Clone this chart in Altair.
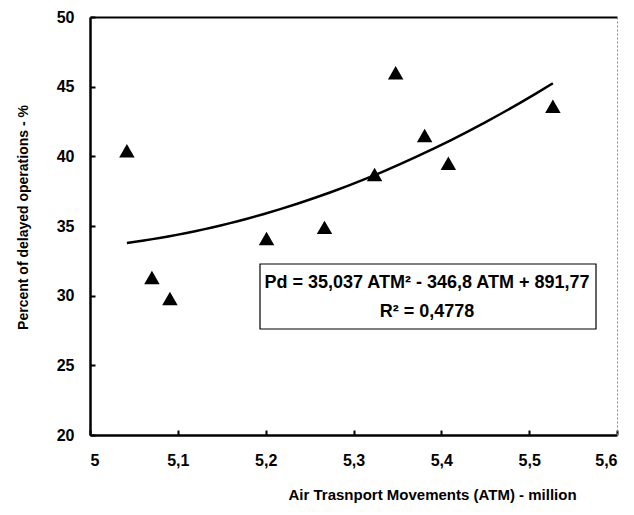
import altair as alt
import pandas as pd

# Data
atm = [5.042, 5.0705, 5.091, 5.201, 5.267, 5.324, 5.348, 5.381, 5.408, 5.527]
delayed = [40.4, 31.3, 29.8, 34.1, 34.9, 38.7, 46.0, 41.5, 39.5, 43.6]
x_ticks = [5.0, 5.1, 5.2, 5.3, 5.4, 5.5, 5.6]
y_ticks = [20, 25, 30, 35, 40, 45, 50]
equation_line1 = "Pd = 35,037 ATM² - 346,8 ATM + 891,77"
equation_line2 = "R² = 0,4778"
x_title = "Air Trasnport Movements (ATM) - million"
y_title = "Percent of delayed operations - %"

df = pd.DataFrame({"atm": atm, "pct": delayed})
one = pd.DataFrame({"k": [0]})

FONT = "Liberation Sans"
xscale = alt.Scale(domain=[5.0, 5.6], nice=False, zero=False)
yscale = alt.Scale(domain=[20, 50], nice=False, zero=False)
comma = "replace(format(datum.value, '~g'), '.', ',')"

bottom_axis = alt.Axis(orient="bottom", values=x_ticks, labelExpr=comma, grid=False,
                       ticks=False, labelPadding=17, domainColor="black", domainWidth=2.5,
                       title=x_title, titleX=342, titleY=59, titleBaseline="middle",
                       titleAlign="center", titleFontSize=15)
left_axis = alt.Axis(orient="left", values=y_ticks, grid=False, ticks=False,
                     labelPadding=16, domainColor="black", domainWidth=2.5,
                     title=y_title, titleX=-67, titleY=200, titleAngle=-90,
                     titleBaseline="middle", titleAlign="center", titleFontSize=14)
top_axis = alt.Axis(orient="top", labels=False, ticks=False, grid=False, title=None,
                    domainColor="black", domainWidth=2)
right_axis = alt.Axis(orient="right", labels=False, ticks=False, grid=False, title=None,
                      domainColor="#888888", domainWidth=1, domainDash=[2, 2])
xtick_axis = alt.Axis(orient="bottom", offset=-5, tickSize=5, ticks=True, values=x_ticks,
                      labels=False, domain=False, grid=False, title=None,
                      tickColor="black", tickWidth=2)
ytick_axis = alt.Axis(orient="left", offset=-5, tickSize=5, ticks=True, values=y_ticks,
                      labels=False, domain=False, grid=False, title=None,
                      tickColor="black", tickWidth=2)

box = alt.Chart(one).mark_rect(fill="white", stroke="black", strokeWidth=1.2).encode(
    x=alt.value(170), x2=alt.value(506), y=alt.value(247), y2=alt.value(312))
txt1 = alt.Chart(one).mark_text(font=FONT, fontSize=18, fontWeight="bold", align="center",
                                baseline="middle", color="black").encode(
    x=alt.value(337), y=alt.value(266), text=alt.value(equation_line1))
txt2 = alt.Chart(one).mark_text(font=FONT, fontSize=18, fontWeight="bold", align="center",
                                baseline="middle", color="black").encode(
    x=alt.value(337), y=alt.value(295), text=alt.value(equation_line2))

points = alt.Chart(df).mark_point(shape="triangle-up", filled=True, color="black",
                                  size=240, opacity=1).encode(
    x=alt.X("atm:Q", scale=xscale, axis=bottom_axis),
    y=alt.Y("pct:Q", scale=yscale, axis=left_axis))

trend = alt.Chart(df).transform_regression("atm", "pct", method="poly", order=2).mark_line(
    color="black", strokeWidth=2.5).encode(
    x=alt.X("atm:Q", scale=xscale, axis=top_axis),
    y=alt.Y("pct:Q", scale=yscale, axis=right_axis))

ticks_layer = alt.Chart(df).mark_point(opacity=0).encode(
    x=alt.X("atm:Q", scale=xscale, axis=xtick_axis),
    y=alt.Y("pct:Q", scale=yscale, axis=ytick_axis))

chart = alt.layer(points, trend, ticks_layer, box, txt1, txt2).resolve_axis(
    x="independent", y="independent").properties(
    width=527, height=418,
    autosize=alt.AutoSizeParams(type="none"),
    padding={"left": 82, "top": 9, "right": 9, "bottom": 72},
).configure_view(stroke=None).configure_axis(
    labelFont=FONT, labelFontSize=16, labelFontWeight="bold", labelColor="black",
    titleFont=FONT, titleColor="black", titleFontWeight="bold")

chart.save("out.html", embed_options={"renderer": "svg", "actions": False})
